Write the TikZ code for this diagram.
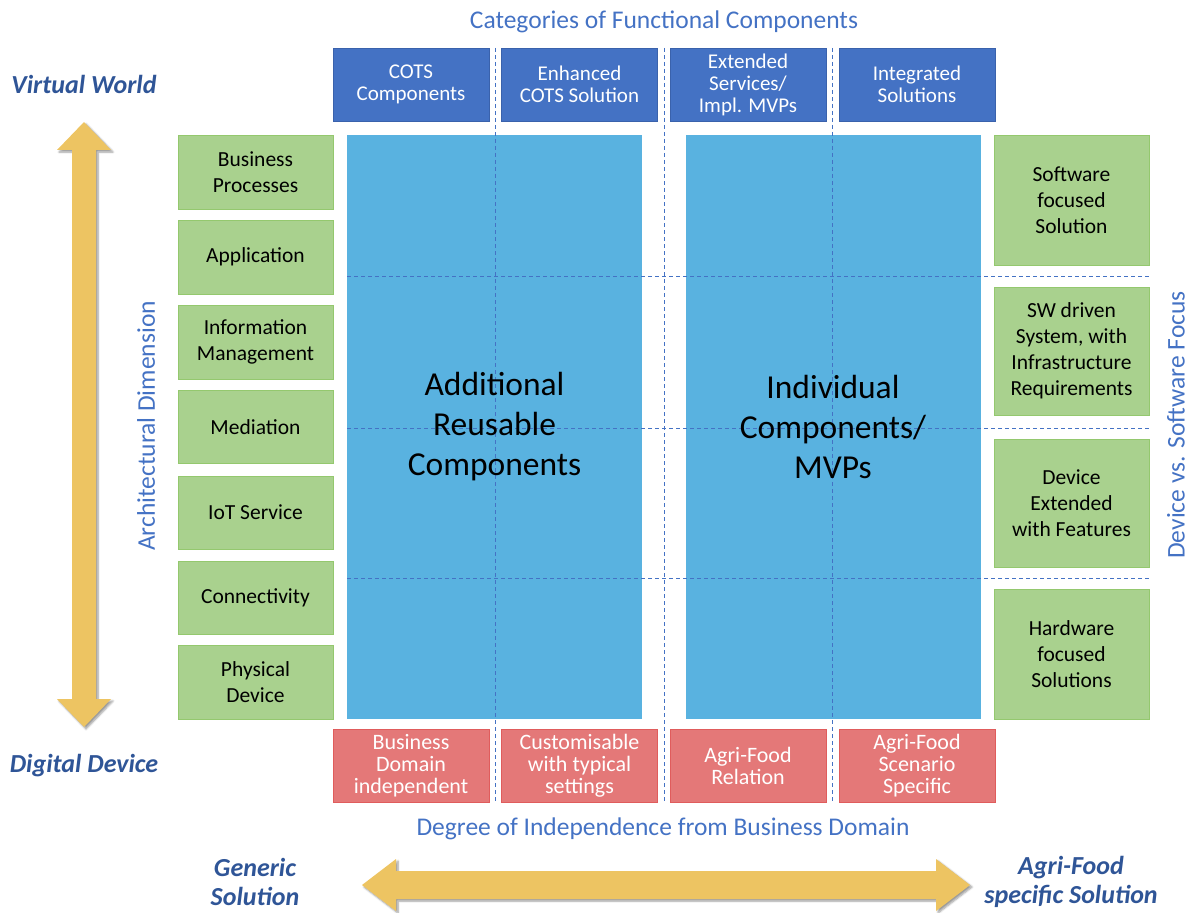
\documentclass[tikz,border=0pt]{standalone}
\usepackage{fontspec}
\setmainfont{Carlito}
\usetikzlibrary{shadows.blur}
\definecolor{hdrblue}{HTML}{4472C4}
\definecolor{hdrborder}{HTML}{3A62AC}
\definecolor{panelblue}{HTML}{59B2E0}
\definecolor{grnfill}{HTML}{A9D18E}
\definecolor{grnborder}{HTML}{94C86E}
\definecolor{redfill}{HTML}{E47878}
\definecolor{redborder}{HTML}{E05C5C}
\definecolor{txtblue}{HTML}{4472C4}
\definecolor{darkblue}{HTML}{2F5597}
\definecolor{gold}{HTML}{EDC462}
\tikzset{
  hdrbox/.style={draw=hdrborder, fill=hdrblue, text=white, minimum width=156pt, minimum height=73pt,
    inner sep=0pt, align=center, font=\fontsize{21}{22}\selectfont},
  grnbox/.style={draw=grnborder, fill=grnfill, text=black, minimum width=155pt,
    inner sep=0pt, align=center, font=\fontsize{21.5}{26}\selectfont},
  redbox/.style={draw=redborder, fill=redfill, text=white, minimum width=156pt, minimum height=73pt,
    inner sep=0pt, align=center, font=\fontsize{22}{22}\selectfont},
  panel/.style={fill=panelblue, minimum width=295pt, minimum height=584pt, inner sep=0pt},
  bigtxt/.style={align=center, font=\fontsize{33.5}{40}\selectfont, text=black},
  axistxt/.style={text=txtblue, font=\fontsize{25.5}{28}\selectfont, inner sep=0pt},
  poletxt/.style={text=darkblue, align=center, font=\fontsize{26}{29}\selectfont\bfseries\itshape, inner sep=0pt},
  dashline/.style={draw=hdrblue, line width=0.9pt, dash pattern=on 4pt off 3pt},
  goldarrow/.style={fill=gold, blur shadow={shadow xshift=2pt, shadow yshift=-2pt, shadow blur steps=6, shadow opacity=40}},
}
\begin{document}
\begin{tikzpicture}[x=1pt,y=-1pt]
\useasboundingbox (0,0) rectangle (1190,912);

% panels
\node[panel] (pl) at (494.5,427) {};
\node[panel] (pr) at (833,427) {};

% header
\node[axistxt] (title) at (664,22) {Categories of Functional Components};
\node[hdrbox] (h1) at (411,84.5) {COTS\\Components};
\node[hdrbox] (h2) at (579.5,84.5) {Enhanced\\COTS Solution};
\node[hdrbox] (h3) at (748,84.5) {Extended\\Services/\\Impl. MVPs};
\node[hdrbox] (h4) at (917,84.5) {Integrated\\Solutions};

% left green boxes
\node[grnbox, minimum height=74pt] (g1) at (255.5,172) {Business\\Processes};
\node[grnbox, minimum height=74pt] (g2) at (255.5,257) {Application};
\node[grnbox, minimum height=74pt] (g3) at (255.5,342) {Information\\Management};
\node[grnbox, minimum height=73pt] (g4) at (255.5,427) {Mediation};
\node[grnbox, minimum height=73pt] (g5) at (255.5,512.5) {IoT Service};
\node[grnbox, minimum height=73pt] (g6) at (255.5,597.5) {Connectivity};
\node[grnbox, minimum height=74pt] (g7) at (255.5,682) {Physical\\Device};

% right green boxes
\node[grnbox, minimum height=130pt] (s1) at (1071.5,200) {Software\\focused\\Solution};
\node[grnbox, minimum height=128pt] (s2) at (1071.5,351) {SW driven\\System, with\\Infrastructure\\Requirements};
\node[grnbox, minimum height=128pt] (s3) at (1071.5,503) {Device\\Extended\\with Features};
\node[grnbox, minimum height=130pt] (s4) at (1071.5,654) {Hardware\\focused\\Solutions};

% red boxes
\node[redbox] (r1) at (411,765.5) {Business\\Domain\\independent};
\node[redbox] (r2) at (579.5,765.5) {Customisable\\with typical\\settings};
\node[redbox] (r3) at (748,765.5) {Agri-Food\\Relation};
\node[redbox] (r4) at (917,765.5) {Agri-Food\\Scenario\\Specific};

% dashed grid lines
\draw[dashline] (495.5,48) -- (495.5,802);
\draw[dashline] (664,48) -- (664,802);
\draw[dashline] (832.5,48) -- (832.5,802);
\draw[dashline] (347,276) -- (1150,276);
\draw[dashline] (347,428) -- (1150,428);
\draw[dashline] (347,578) -- (1150,578);

% big texts
\node[bigtxt] (tl) at (494.5,427) {Additional\\Reusable\\Components};
\node[bigtxt] (tr) at (833,427) {Individual\\Components/\\MVPs};

% axis texts
\node[axistxt] (bottomtitle) at (663,829) {Degree of Independence from Business Domain};
\node[axistxt, rotate=90] (archdim) at (146,426) {Architectural Dimension};
\node[axistxt, rotate=90] (devsw) at (1176,425) {Device vs. Software Focus};

% gold arrows
\fill[goldarrow] (84,122) -- (111,150) -- (96,150) -- (96,699) -- (111,699) -- (84,727)
  -- (57,699) -- (72,699) -- (72,150) -- (57,150) -- cycle;
\fill[goldarrow] (362,885) -- (396,859) -- (396,871) -- (936,871) -- (936,859) -- (970,885)
  -- (936,911) -- (936,899) -- (396,899) -- (396,911) -- cycle;

% pole labels
\node[poletxt] (vw) at (84,84) {Virtual World};
\node[poletxt] (dd) at (84,766) {Digital Device};
\node[poletxt] (gs) at (255,882) {Generic\\Solution};
\node[poletxt] (as) at (1071,882) {Agri-Food\\specific Solution};
\end{tikzpicture}
\end{document}
